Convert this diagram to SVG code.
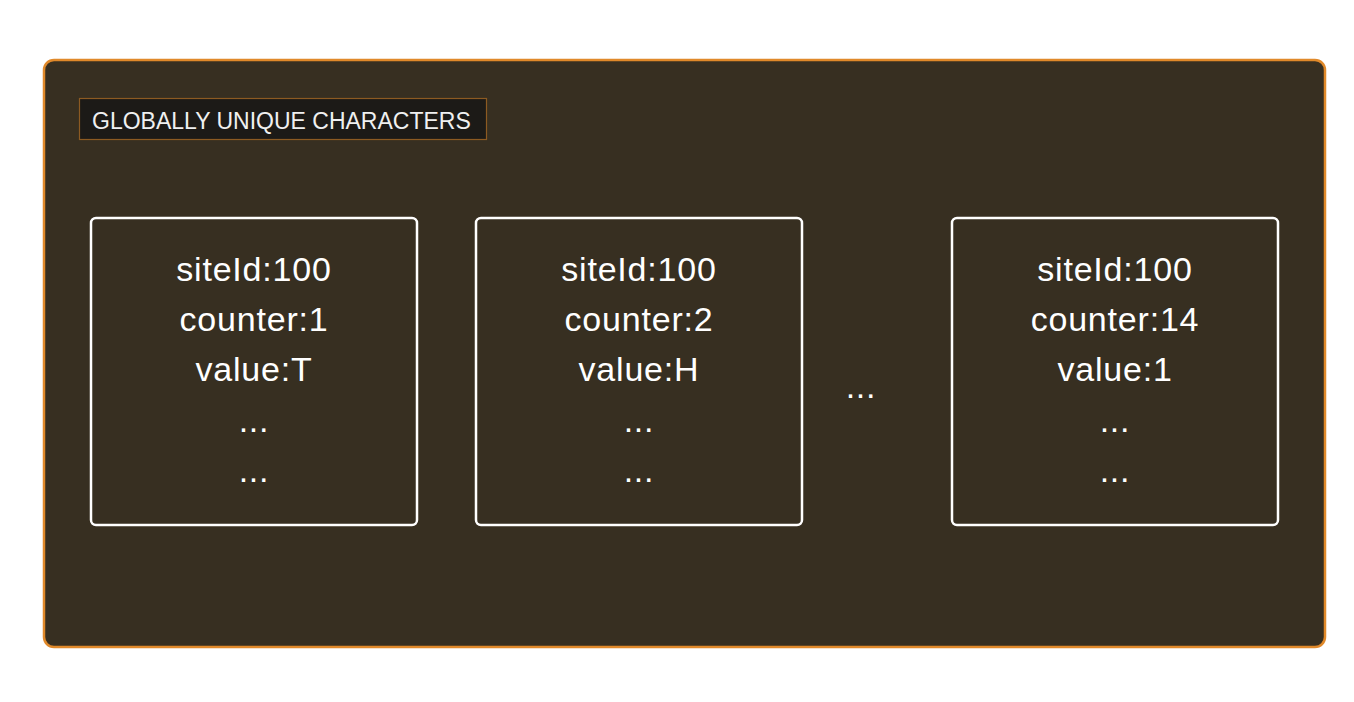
<svg xmlns="http://www.w3.org/2000/svg" width="1354" height="702" viewBox="0 0 1354 702">
<style>
.node rect{fill:none;stroke:#ffffff;stroke-width:2.5}
.t{font-family:"Liberation Sans",Arial,sans-serif;font-size:34px;fill:#ffffff;text-anchor:middle;letter-spacing:0.8px}
.lbl{font-family:"Liberation Sans",Arial,sans-serif;font-size:23px;fill:#f0f0f0}
</style>
<rect width="1354" height="702" fill="#ffffff"/>
<g id="container">
<rect x="44" y="60" width="1281" height="587" rx="10" fill="#372f21" stroke="#e0892a" stroke-width="2.5"/>
</g>
<g id="title">
<rect x="79.5" y="98.5" width="407" height="41" fill="#1c1a17" stroke="#8c5a22" stroke-width="1.2"/>
<text class="lbl" x="92" y="128.5">GLOBALLY UNIQUE CHARACTERS</text>
</g>
<g id="node1" class="node">
<rect x="91" y="218" width="326" height="307" rx="5"/>
<text class="t" x="254" y="281">siteId:100</text>
<text class="t" x="254" y="331">counter:1</text>
<text class="t" x="254" y="381">value:T</text>
<text class="t" x="254" y="432">...</text>
<text class="t" x="254" y="482">...</text>
</g>
<g id="node2" class="node">
<rect x="476" y="218" width="326" height="307" rx="5"/>
<text class="t" x="639" y="281">siteId:100</text>
<text class="t" x="639" y="331">counter:2</text>
<text class="t" x="639" y="381">value:H</text>
<text class="t" x="639" y="432">...</text>
<text class="t" x="639" y="482">...</text>
</g>
<g id="ellipsis">
<text class="t" x="861" y="398">...</text>
</g>
<g id="node3" class="node">
<rect x="952" y="218" width="326" height="307" rx="5"/>
<text class="t" x="1115" y="281">siteId:100</text>
<text class="t" x="1115" y="331">counter:14</text>
<text class="t" x="1115" y="381">value:1</text>
<text class="t" x="1115" y="432">...</text>
<text class="t" x="1115" y="482">...</text>
</g>
<g id="connectors"></g>
</svg>
